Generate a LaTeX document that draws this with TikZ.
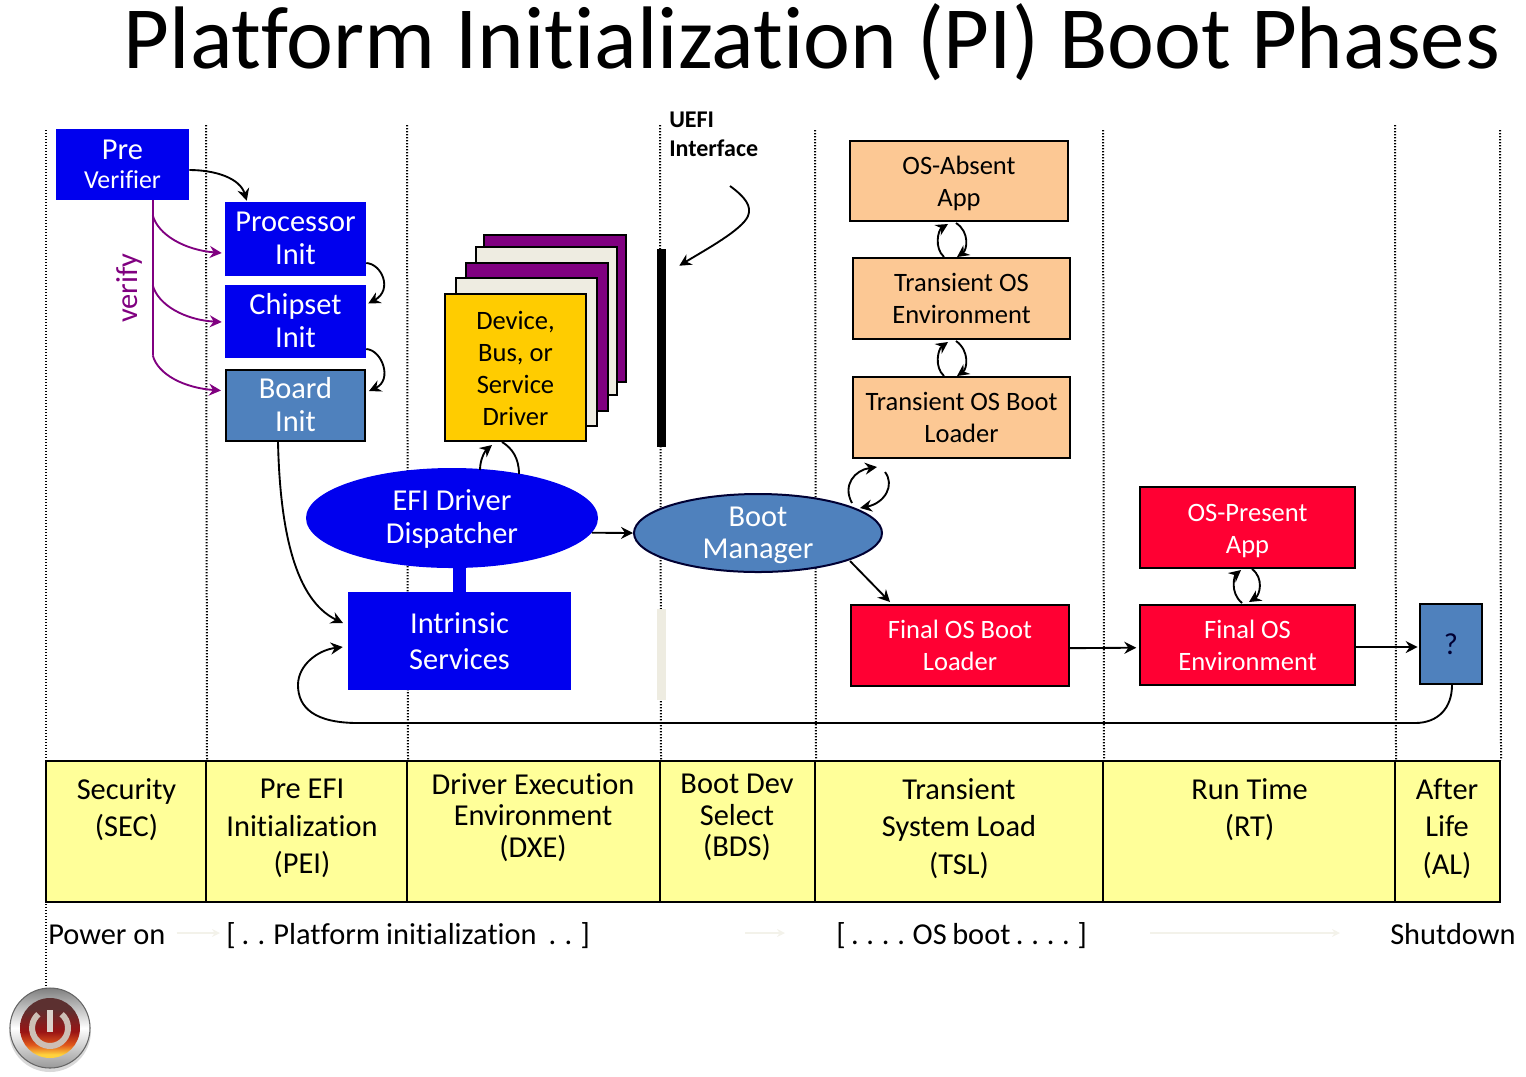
\documentclass[tikz,border=0pt]{standalone}
\usepackage{fontspec}
\setmainfont[Ligatures=NoCommon]{Carlito}
\usetikzlibrary{arrows.meta,calc,shapes.geometric}

\definecolor{dxeblue}{HTML}{0000EE}
\definecolor{steelblue}{HTML}{4F81BD}
\definecolor{peach}{HTML}{FCC894}
\definecolor{alertred}{HTML}{FF0033}
\definecolor{bandyellow}{HTML}{FFFF99}
\definecolor{drvyellow}{HTML}{FFCC00}
\definecolor{drvpurple}{HTML}{800080}
\definecolor{drvcream}{HTML}{EEECE1}
\definecolor{powtop}{HTML}{5C3030}
\definecolor{powmid}{HTML}{9A1414}
\definecolor{powlow}{HTML}{E0581C}
\definecolor{powbot}{HTML}{FFD23C}
\definecolor{powsign}{HTML}{CDBFB5}
\pgfdeclareverticalshading{powerglow}{100bp}{color(0bp)=(powbot); color(28bp)=(powbot); color(36bp)=(powlow); color(47bp)=(powmid); color(66bp)=(powtop); color(100bp)=(powtop)}

% pushes a label down, or up, inside its box
\newcommand{\pushdown}[1]{\rule{0pt}{#1pt}}
\newcommand{\pushup}[1]{\rule[-#1pt]{0pt}{0pt}}

\tikzset{
  sized/.style 2 args={minimum width=#1*0.75pt,minimum height=#2*0.75pt},
  txtlg/.style={font=\fontsize{22.8}{24.4}\selectfont},
  txtmd/.style={font=\fontsize{19.9}{24}\selectfont},
  txtband/.style={font=\fontsize{22.8}{28}\selectfont},
  txtbandtight/.style={font=\fontsize{22.8}{23.6}\selectfont},
  bluebox/.style={rectangle,fill=dxeblue,text=white,align=center,inner sep=0pt,txtlg},
  steelbox/.style={rectangle,draw=black,line width=1.5pt,fill=steelblue,text=white,align=center,inner sep=0pt,txtlg},
  osbox/.style={rectangle,draw=black,line width=1.5pt,fill=peach,align=center,inner sep=0pt,txtmd},
  redbox/.style={rectangle,draw=black,line width=1.5pt,fill=alertred,text=white,align=center,inner sep=0pt,txtmd},
  sheet/.style={rectangle,draw=black,line width=1.5pt,inner sep=0pt},
  bandcell/.style={rectangle,draw=black,line width=1.5pt,fill=bandyellow,inner sep=0pt},
  bandtext/.style={align=center,inner sep=0pt,txtband},
  guide/.style={dash pattern=on 1.1pt off 1.15pt,line width=1.5pt},
  arr/.style={line width=1.4pt,-{Stealth[length=9pt,width=9pt,inset=3pt]}},
  plainarc/.style={line width=1.4pt},
  verifyarr/.style={line width=1.4pt,drvpurple,-{Stealth[length=9pt,width=9pt,inset=3pt]}},
  faintarr/.style={line width=1.2pt,drvcream!70,-{Stealth[length=6pt,width=6pt]}},
  plaintext/.style={inner sep=0pt,txtlg}
}

\begin{document}
\begin{tikzpicture}[x=0.75pt,y=0.75pt,yscale=-1,xscale=1]
\useasboundingbox (0,0) rectangle (1526,1076);

% Title
\node (title) at (812,42) [font=\fontsize{66.6}{70}\selectfont,inner sep=0pt] {Platform Initialization (PI) Boot Phases};

% Phase band
\node (cellsec) at (126,831.5) [bandcell,sized={160}{141}] {};
\node (cellpei) at (306.5,831.5) [bandcell,sized={201}{141}] {};
\node (celldxe) at (533.5,831.5) [bandcell,sized={253}{141}] {};
\node (cellbds) at (737.5,831.5) [bandcell,sized={155}{141}] {};
\node (celltsl) at (959,831.5) [bandcell,sized={288}{141}] {};
\node (cellrt) at (1249,831.5) [bandcell,sized={292}{141}] {};
\node (cellal) at (1447.5,831.5) [bandcell,sized={105}{141}] {};

\node (labsec) at (126.5,809.5) [bandtext] {Security\\(SEC)};
\node (labpei) at (302,828.5) [bandtext] {Pre EFI\\Initialization\\(PEI)};
\node (labdxe) at (533,817.5) [bandtext,txtbandtight] {Driver Execution\\Environment\\(DXE)};
\node (labbds) at (737,817.5) [bandtext,txtbandtight] {Boot Dev\\Select\\(BDS)};
\node (labtsl) at (959,828.5) [bandtext] {Transient\\System Load\\(TSL)};
\node (labrt) at (1249.5,809.5) [bandtext] {Run Time\\(RT)};
\node (labal) at (1447,828.5) [bandtext] {After\\Life\\(AL)};

% Power icon
\fill[black!15] (50,1031) circle[radius=41];
\node (power) at (50,1028) [circle,inner sep=0pt,minimum size=60pt,draw=black!60,line width=0.8pt,top color=black!50,bottom color=black!40,middle color=white] {};
\node (powerin) at (power.center) [circle,inner sep=0pt,minimum size=45pt,shading=powerglow] {};
\draw[line width=4.5pt,powsign] (61.6,1014.2) arc[start angle=-50,end angle=230,radius=18];
\draw[line width=4pt,powsign!70!white] (50,1010) -- (50,1032);

% Phase guides
\draw[guide] (46,130) -- (46,988);
\draw[guide] (206,125) -- (cellsec.north east);
\draw[guide] (407,125) -- (cellpei.north east);
\draw[guide] (660,125) -- (celldxe.north east);
\draw[guide] (815,130) -- (cellbds.north east);
\draw[guide] (1103,130) -- (celltsl.north east);
\draw[guide] (1395,125) -- (cellrt.north east);
\draw[guide] (1500,130) -- (cellal.north east);

% Pre EFI column
\node (prever) at (122.5,164.5) [bluebox,sized={133}{71},font=\fontsize{19.4}{24}\selectfont] {{\fontsize{22.8}{21}\selectfont Pre}\\[-2pt]Verifier};
\node (procinit) at (295.5,239) [bluebox,sized={141}{74}] {Processor\\Init\pushup{1.5}};
\node (chipinit) at (295.5,321.5) [bluebox,sized={141}{73}] {Chipset\\Init\pushup{2}};
\node (boardinit) at (295.5,405.5) [steelbox,sized={139}{71}] {Board\\Init\pushup{1.5}};
\node (verifytxt) at (129,288) [rotate=90,text=drvpurple,inner sep=0pt,txtlg] {verify};

\coordinate (vend) at ($(prever.south west)+(97,155)$);
\draw[line width=1.4pt,drvpurple] ($(prever.south west)+(97,0)$) -- (vend);
\draw[verifyarr] ($(prever.south west)+(97,15)$) .. controls (158,235) and (185,250) .. ($(procinit.west)+(-3,14)$);
\draw[verifyarr] ($(prever.south west)+(97,85)$) .. controls (158,305) and (185,320) .. ($(chipinit.west)+(-3,0.5)$);
\draw[verifyarr] (vend) .. controls (158,375) and (185,388) .. ($(boardinit.west)+(-4,-15)$);

\draw[arr] ($(prever.east)+(0,5.5)$) .. controls (215,170) and (240,178) .. ($(procinit.north west)+(22,-1)$);
\draw[arr] ($(procinit.east)+(0,24)$) .. controls (382,264) and (393,290) .. ($(chipinit.east)+(2,-18)$);
\draw[arr] ($(chipinit.east)+(0,27.5)$) .. controls (382,350) and (393,380) .. ($(boardinit.east)+(3,-14.5)$);
\draw[arr] ($(boardinit.south west)+(53,0)$) .. controls (280,530) and (295,600) .. ($(288.5,623)+(54.5,0)$);

% Driver stack
\node (drvback) at (555,308.5) [sheet,sized={142}{147},fill=drvpurple] {};
\node (drvcreamb) at (546.5,321) [sheet,sized={141}{148},fill=drvcream] {};
\node (drvmid) at (537,337) [sheet,sized={142}{148},fill=drvpurple] {};
\node (drvcreamf) at (526.5,352) [sheet,sized={141}{148},fill=drvcream] {};
\node (driver) at (515.5,367.5) [sheet,sized={141}{147},fill=drvyellow,align=center,txtmd] {\pushdown{15.5}Device,\\Bus, or\\Service\\Driver};

% DXE column
\node (intrinsic) at (459.5,641) [bluebox,sized={223}{98},font=\fontsize{22.8}{27}\selectfont] {Intrinsic\\Services};
\node (dispatcher) at (452,518) [ellipse,fill=dxeblue,text=white,align=center,inner sep=0pt,sized={292}{100},txtlg] {\pushdown{17}EFI Driver\\Dispatcher};
\draw[line width=9.75pt,dxeblue] (intrinsic.north) -- (intrinsic.north |- dispatcher.south);

\draw[arr] ($(dispatcher.center)+(28,-48)$) .. controls (480,458) and (486,450) .. ($(driver.south west)+(48,3)$);
\draw[plainarc] ($(driver.south west)+(58,0)$) .. controls (512,448) and (519,458) .. ($(dispatcher.center)+(67,-44)$);

% UEFI interface
\node (uefibar) at (661.5,348) [rectangle,fill=black,inner sep=0pt,sized={9}{198}] {};
\node (uefigap) at (661.5,654.5) [rectangle,fill=drvcream,inner sep=0pt,sized={9}{91}] {};
\node (uefitxt) at (669,134.5) [anchor=west,align=left,inner sep=0pt,font=\fontsize{18}{22}\selectfont\bfseries] {UEFI\\Interface};
\coordinate (uefifrom) at (730,186);
\draw[arr] (uefifrom) .. controls (745,197) and (752,206) .. (748,216) .. controls (742,230) and (705,250) .. ($(uefibar.north east)+(13,17)$);

% Boot manager
\node (bootmgr) at (758,533) [ellipse,draw=black!80!blue,line width=1.5pt,fill=steelblue,text=white,align=center,inner xsep=0pt,inner ysep=-4pt,sized={248}{78},txtlg] {\pushdown{18}Boot\\Manager};
\draw[arr] (dispatcher.-6) -- (bootmgr.west);

% TSL column
\node (osabsent) at (959,181) [osbox,sized={218}{80}] {\pushdown{17.5}OS-Absent\\App};
\node (tosenv) at (961.5,298.5) [osbox,sized={217}{81}] {Transient OS\\Environment};
\node (tosload) at (961.5,417.5) [osbox,sized={217}{81}] {Transient OS Boot\\Loader};
\node (finalload) at (960,645.5) [redbox,sized={218}{81}] {Final OS Boot\\Loader};

\draw[arr] ($(tosenv.north west)+(92,0)$) .. controls (934,248) and (938,230) .. ($(osabsent.south west)+(99,2)$);
\draw[arr] ($(osabsent.south west)+(107,1)$) .. controls (970,232) and (967,250) .. ($(tosenv.north west)+(105,0)$);
\draw[arr] ($(tosload.north west)+(92,0)$) .. controls (934,367) and (938,349) .. ($(tosenv.south west)+(96,2)$);
\draw[arr] ($(tosenv.south west)+(104,1)$) .. controls (970,351) and (967,369) .. ($(tosload.north west)+(105,0)$);

\draw[arr] ($(bootmgr.center)+(94,-30)$) .. controls (842,485) and (855,470) .. ($(tosload.south west)+(25,8)$);
\draw[arr] ($(tosload.south west)+(33,13)$) .. controls (895,485) and (885,503) .. ($(bootmgr.center)+(102,-25)$);
\draw[arr] ($(bootmgr.center)+(92,28)$) -- ($(finalload.north west)+(40,-2)$);

% RT column
\node (ospresent) at (1247.5,527.5) [redbox,sized={215}{81}] {\pushdown{17.5}OS-Present\\App};
\node (finalenv) at (1247.5,645) [redbox,sized={215}{80}] {Final OS\\Environment};
\node (afterbox) at (1451,644) [steelbox,sized={62}{80},text=black!80!blue] {?};

\draw[arr] ($(finalenv.north west)+(103,-1)$) .. controls (1229,592) and (1235,575) .. ($(ospresent.south west)+(102,1)$);
\draw[arr] ($(ospresent.south west)+(113,0)$) .. controls (1264,578) and (1260,595) .. ($(finalenv.north west)+(110,-2)$);

\draw[arr,shorten >=2pt] ([yshift=2pt]finalload.east) -- ([yshift=2pt]finalenv.west);
\draw[arr,shorten >=1pt] ([yshift=1.5pt]finalenv.east) -- ([yshift=2.25pt]afterbox.west);

% Return path to intrinsic services
\draw[arr] ($(afterbox.south west)+(33,0)$) .. controls (1452,708) and (1438,723) .. (1415,723) -- (358,723) .. controls (315,723) and (298,708) .. (298,685) .. controls (298,665) and (318,650) .. ($(intrinsic.west)+(-5,6)$);

% Bottom row
\node (poweron) at (48,944) [anchor=base west,plaintext] {Power on};
\node (platform) at (226,944) [anchor=base west,plaintext] {\spaceskip=4.5pt [ . . Platform initialization\ \ . . ]};
\node (osboot) at (836,944) [anchor=base west,plaintext] {\spaceskip=4.1pt [ . . . . OS boot . . . . ]};
\node (shutdown) at (1390,944) [anchor=base west,plaintext] {Shutdown};
\coordinate (fainta) at (745,933);
\coordinate (faintb) at (785,933);
\coordinate (faintc) at (1150,933);
\coordinate (faintd) at (1340,933);
\draw[faintarr] ($(poweron.base east)+(11,-11)$) -- ($(platform.base west)+(-6,-11)$);
\draw[faintarr] (fainta) -- (faintb);
\draw[faintarr] (faintc) -- (faintd);

\end{tikzpicture}
\end{document}
